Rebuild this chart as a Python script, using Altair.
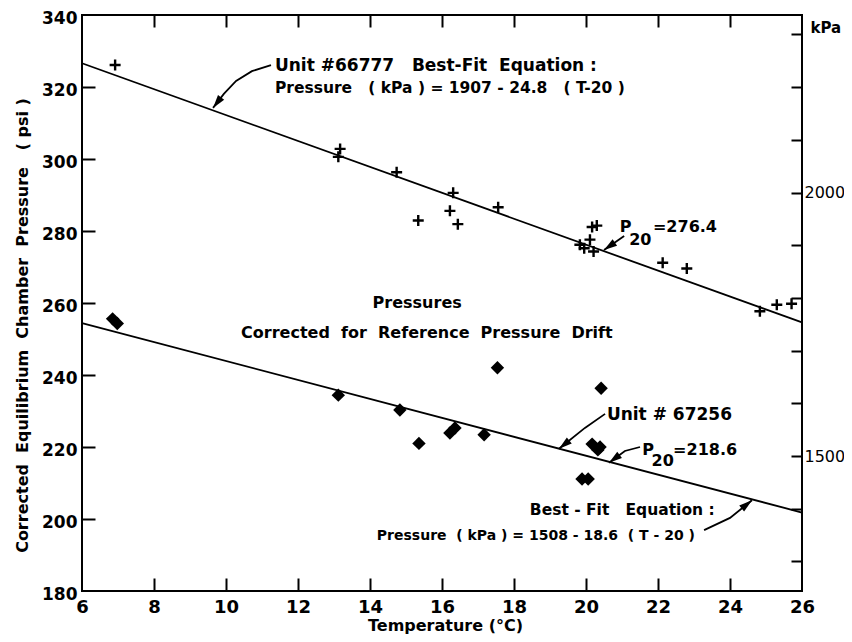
import math
import altair as alt
import pandas as pd

FONT = "DejaVu Sans"
NB = "\u00a0"

# ---------------- data ----------------
# Unit #66777 (plus markers)
temp_66777 = [6.92, 13.17, 13.12, 14.74, 15.34, 16.31, 16.22, 16.44, 17.56, 19.83,
              19.95, 20.11, 20.17, 20.30, 20.21, 22.13, 22.80, 24.83, 25.30, 25.71]
psi_66777 = [326.1, 302.8, 300.6, 296.3, 282.9, 290.6, 285.6, 281.9, 286.6, 276.2,
             275.2, 277.6, 281.1, 281.5, 274.3, 271.2, 269.6, 257.7, 259.5, 259.8]

# Unit #67256 (diamond markers)
temp_67256 = [6.85, 6.98, 13.12, 14.83, 15.36, 16.22, 16.36, 17.17, 17.54, 20.42,
              20.17, 20.33, 20.39, 19.89, 20.06]
psi_67256 = [255.6, 254.3, 234.4, 230.3, 221.0, 223.9, 225.3, 223.4, 242.0, 236.3,
             220.8, 219.2, 220.0, 211.1, 211.1]

# best-fit lines (end points)
fit_temp = [6, 26]
fit_66777 = [326.6, 254.6]
fit_67256 = [254.4, 201.8]

# axes
x_ticks = [6, 8, 10, 12, 14, 16, 18, 20, 22, 24, 26]
y_ticks = [180, 200, 220, 240, 260, 280, 300, 320, 340]
kpa_ticks = [1300, 1400, 1500, 1600, 1700, 1800, 1900, 2000, 2100, 2200, 2300]
kpa_labels = [1500, 2000]

X_DOM = [6, 26]
Y_DOM = [180, 340]
KPA_DOM = [1244, 2337]
W, H = 720, 576


def xq(field, axis=None):
    return alt.X(f"{field}:Q", scale=alt.Scale(domain=X_DOM, nice=False, zero=False), axis=axis)


def yq(field, axis=None):
    return alt.Y(f"{field}:Q", scale=alt.Scale(domain=Y_DOM, nice=False, zero=False), axis=axis)


# ---------------- axes ----------------
axA = alt.Axis(orient="bottom", values=x_ticks, ticks=False, domain=False, grid=False,
               format="d", labelFont=FONT, labelFontSize=18, labelFontWeight="bold",
               labelColor="black", labelPadding=7, labelOverlap=False, labelFlush=False,
               title="Temperature  (°C)", titleFont=FONT, titleFontSize=16,
               titleFontWeight="bold", titleColor="black", titleX=363, titleY=39,
               titleBaseline="alphabetic", titleAlign="center")
axB = alt.Axis(orient="top", offset=-H, values=x_ticks[1:-1], ticks=True, tickSize=13,
               tickWidth=2, tickColor="black", labels=False, domain=False, grid=False, title=None)
axC = alt.Axis(orient="bottom", offset=-H, values=x_ticks[1:-1], ticks=True, tickSize=12,
               tickWidth=2, tickColor="black", labels=False, domain=False, grid=False, title=None)
axD = alt.Axis(orient="left", values=y_ticks, ticks=False, domain=False, grid=False,
               format="d", labelFont=FONT, labelFontSize=17, labelFontWeight="bold",
               labelColor="black", labelPadding=5, labelOffset=3, labelOverlap=False,
               labelFlush=False,
               title=f"Corrected{NB} Equilibrium{NB} Chamber{NB} Pressure{NB}{NB} ( psi )",
               titleFont=FONT, titleFontSize=16, titleFontWeight="bold", titleColor="black",
               titleAngle=270, titleX=-60, titleY=310, titleBaseline="middle",
               titleAlign="center")
axE = alt.Axis(orient="right", offset=-W, values=y_ticks[1:-1], ticks=True, tickSize=13,
               tickWidth=2, tickColor="black", labels=False, domain=False, grid=False, title=None)
axF = alt.Axis(orient="right", values=kpa_labels, ticks=False, domain=False, grid=False,
               format="d", labelFont=FONT, labelFontSize=16, labelFontWeight="normal",
               labelColor="black", labelPadding=2, labelOverlap=False, labelFlush=False,
               title="kPa", titleFont=FONT, titleFontSize=15, titleFontWeight="bold",
               titleColor="black", titleAngle=0, titleX=8, titleY=17,
               titleAlign="left", titleBaseline="alphabetic")
axG = alt.Axis(orient="left", offset=-W, values=kpa_ticks, ticks=True, tickSize=11,
               tickWidth=2, tickColor="black", labels=False, domain=False, grid=False, title=None)

# ---------------- marks ----------------
fit_df = pd.DataFrame({"t": fit_temp, "a": fit_66777, "b": fit_67256})
line1 = alt.Chart(fit_df).mark_line(color="black", strokeWidth=1.8).encode(
    x=xq("t", axA), y=yq("a", axD))
line2 = alt.Chart(fit_df).mark_line(color="black", strokeWidth=1.8).encode(
    x=xq("t", axB), y=yq("b", axE))

df1 = pd.DataFrame({"t": temp_66777, "p": psi_66777})
df2 = pd.DataFrame({"t": temp_67256, "p": psi_67256})
plus = alt.Chart(df1).mark_point(shape="M-1,0L1,0M0,-1L0,1", size=121, filled=False,
                                 color="black", strokeWidth=2.4, opacity=1).encode(
    x=xq("t", axC), y=yq("p"))
diam = alt.Chart(df2).mark_point(shape="diamond", size=180, filled=True,
                                 color="black", opacity=1).encode(x=xq("t"), y=yq("p"))

kpa_df = pd.DataFrame({"k": kpa_ticks})
kscale = alt.Scale(domain=KPA_DOM, nice=False, zero=False)
kpa1 = alt.Chart(kpa_df).mark_point(opacity=0).encode(y=alt.Y("k:Q", scale=kscale, axis=axF))
kpa2 = alt.Chart(kpa_df).mark_point(opacity=0).encode(y=alt.Y("k:Q", scale=kscale, axis=axG))


def text_layer(rows, size, align="left", weight="bold"):
    df = pd.DataFrame(rows, columns=["t", "p", "txt"])
    return alt.Chart(df).mark_text(font=FONT, fontSize=size, fontWeight=weight, align=align,
                                   baseline="alphabetic", color="black").encode(
        x=xq("t"), y=yq("p"), text="txt:N")


txt_big = text_layer([
    (11.36, 324.5, f"Unit #66777{NB}{NB}{NB}Best-Fit{NB} Equation :"),
    (20.58, 227.5, "Unit # 67256"),
], 17)
txt_p = text_layer([
    (20.94, 279.8, "P"), (21.86, 279.8, "=276.4"),
    (21.56, 217.8, "P"), (22.42, 217.8, "=218.6"),
], 16)
txt_sub = text_layer([
    (21.20, 276.1, "20"), (21.82, 214.7, "20"),
], 16)
txt_mid = text_layer([
    (11.36, 318.25, f"Pressure{NB}{NB} ( kPa ) = 1907 - 24.8{NB}{NB} ( T-20 )"),
    (18.44, 201.1, f"Best - Fit{NB}{NB} Equation :"),
], 15.5)
txt_ctr = text_layer([
    (15.31, 258.6, "Pressures"),
    (15.58, 250.3, f"Corrected{NB} for{NB} Reference{NB} Pressure{NB} Drift"),
], 16, align="center")
txt_low = text_layer([
    (14.19, 194.2, f"Pressure{NB} ( kPa ) = 1508 - 18.6{NB} ( T - 20 )"),
], 14)

arrows = [
    ("a1", [(11.25, 326.1), (10.72, 324.4), (10.28, 321.7), (9.94, 318.1), (9.64, 314.2)]),
    ("a2", [(21.06, 278.6), (20.50, 274.7)]),
    ("a3", [(20.53, 229.2), (19.97, 225.3), (19.25, 219.5)]),
    ("a4", [(21.50, 220.0), (21.08, 218.9), (20.64, 215.6)]),
    ("a5", [(23.28, 196.9), (24.00, 200.3), (24.61, 205.2)]),
]
arows, heads = [], []
for name, pts in arrows:
    for i, (t, p) in enumerate(pts):
        arows.append({"id": name, "o": i, "t": t, "p": p})
    (t1, p1), (t2, p2) = pts[-2], pts[-1]
    dx = (t2 - t1) * W / (X_DOM[1] - X_DOM[0])
    dy = -(p2 - p1) * H / (Y_DOM[1] - Y_DOM[0])
    ang = math.degrees(math.atan2(dx, -dy)) % 360
    heads.append({"t": t2, "p": p2, "ang": ang})

arrow_lines = alt.Chart(pd.DataFrame(arows)).mark_line(color="black", strokeWidth=1.8).encode(
    x=xq("t"), y=yq("p"), detail="id:N", order="o:Q")
arrow_heads = alt.Chart(pd.DataFrame(heads)).mark_point(
    shape="M0,0L0.65,2.2L-0.65,2.2Z", size=144, filled=True, color="black", opacity=1).encode(
    x=xq("t"), y=yq("p"), angle=alt.Angle("ang:Q", scale=None))

chart = alt.layer(
    line1, line2, plus, diam, kpa1, kpa2,
    txt_big, txt_p, txt_sub, txt_mid, txt_ctr, txt_low, arrow_lines, arrow_heads,
).resolve_scale(x="independent", y="independent").resolve_axis(
    x="independent", y="independent"
).properties(
    width=W, height=H, autosize="none",
    padding={"left": 74, "top": 7, "right": 42, "bottom": 43},
    background="white",
).configure_view(stroke="black", strokeWidth=2)

chart.save("out.html", embed_options={"renderer": "svg", "actions": False})
